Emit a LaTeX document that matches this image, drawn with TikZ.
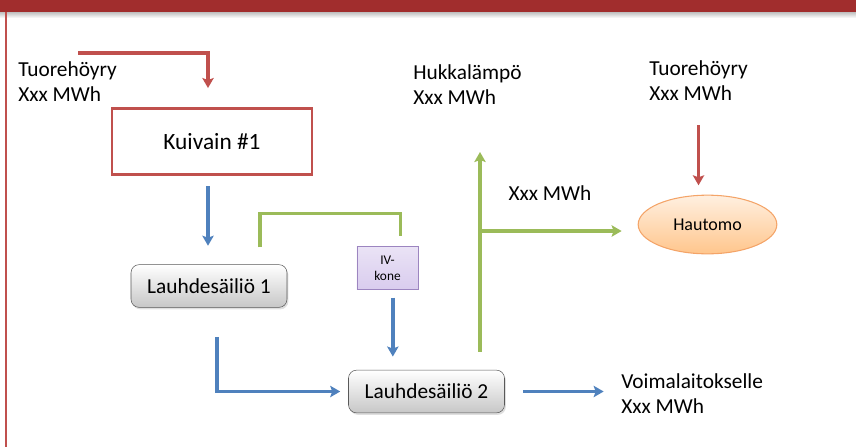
\documentclass[tikz,border=0pt]{standalone}
\usepackage{fontspec}
\setmainfont{Carlito}
\usetikzlibrary{positioning, arrows.meta, calc, shapes.geometric, shadows}
\definecolor{titlered}{HTML}{A12D2D}
\definecolor{linered}{HTML}{C0504D}
\definecolor{lineblue}{HTML}{4F81BD}
\definecolor{linegreen}{HTML}{9BBB59}
\definecolor{boxpurple}{HTML}{9C85C0}
\definecolor{fillpurple}{HTML}{D9CCEE}
\definecolor{hautedge}{HTML}{F4A468}
\tikzset{
    x=0.75pt, y=-0.75pt, % one unit = one pixel of the slide
    every node/.style={font=\fontsize{16}{19.3}\selectfont},
    label text/.style={ % free text labels
        align=left,
        anchor=north west,
        inner sep=0pt
    },
    pipe/.style={line width=2.6pt},
    flow/.style={pipe, -{Stealth[length=7.5pt, width=8.5pt, inset=1.5pt]}}, % directed connectors
    steam/.style={flow, linered},
    water/.style={flow, lineblue},
    tank/.style={ % grey rounded tanks
        draw=black!65,
        rounded corners=6pt,
        top color=white,
        bottom color=black!22,
        minimum width=117pt,
        minimum height=32pt,
        drop shadow={opacity=0.25, shadow xshift=1pt, shadow yshift=-1.5pt}
    },
}

\begin{document}
\begin{tikzpicture}
    \useasboundingbox (0,0) rectangle (856,447);
    % slide frame
    \fill[titlered] (0,0) rectangle (856,12);
    \shade[top color=black!25, bottom color=white] (0,12) rectangle (856,18);
    \draw[linered, line width=1.5pt] (6,12) -- (6,447);

    \node[label text] (tin1)  at (18,61)   {Tuorehöyry\\Xxx MWh};
    \node[label text] (hukka) at (413,64)  {Hukkalämpö\\Xxx MWh};
    \node[label text] (tin2)  at (649,60)  {Tuorehöyry\\Xxx MWh};
    \node[label text] (voima) at (621,373) {Voimalaitokselle\\Xxx MWh};
    \node             (mwh)   at (550,193) {Xxx MWh};

    \node[draw=linered, line width=2.2pt, fill=white, font=\fontsize{17.5}{21}\selectfont,
          minimum width=150pt, minimum height=50pt]     (kuiv)  at (212,141.5) {Kuivain \#1};
    \node[tank]                                         (lauh1) at (209,286)   {Lauhdesäiliö 1};
    \node[tank]                                         (lauh2) at (426.5,391.5) {Lauhdesäiliö 2};
    \node[draw=boxpurple, top color=fillpurple!55, bottom color=fillpurple,
          minimum width=46pt, minimum height=32pt, inner sep=1pt, align=center,
          font=\fontsize{10}{12}\selectfont]            (ivk)   at (387.5,268) {IV-\\kone};
    \node[ellipse, draw=hautedge, line width=0.8pt, top color=orange!12, bottom color=orange!45,
          minimum width=104pt, minimum height=44pt,
          font=\fontsize{13.5}{16}\selectfont]          (haut)  at (707.5,224.5) {Hautomo};

    \coordinate (tstart) at (78,53);
    \coordinate (hup)    at (480,152);
    \coordinate (hsplit) at (480,231);

    % steam
    \draw[steam, shorten >=14pt] (tstart) -| ([xshift=-3pt]kuiv.north);
    \draw[steam, shorten <=18pt, shorten >=7pt] (tin2.south) -- (tin2.south |- haut.north);
    % condensate
    \draw[water, shorten <=7.5pt, shorten >=14pt] ([xshift=-3pt]kuiv.south) -- ([xshift=-3pt]kuiv.south |- lauh1.north);
    \draw[water, shorten >=6pt] ([xshift=6pt,yshift=-22pt]lauh1.south) |- (lauh2.west);
    \draw[water, shorten <=6pt, shorten >=10pt] ([xshift=4pt]ivk.south) -- ([xshift=4pt]ivk.south |- lauh2.north);
    \draw[water, shorten <=14pt, shorten >=13pt] (lauh2.east) -- (lauh2.east -| voima.west);
    % waste heat
    \draw[pipe, linegreen] ($(lauh1.north)+(51,-17)$) |- ($(ivk.north)+(13,-33)$) -- ($(ivk.north)+(13,-10)$);
    \draw[flow, linegreen] ($(lauh2.north)+(53.5,-18)$) -- (hup);
    \draw[flow, linegreen, shorten >=12pt] (hsplit) -- (hsplit -| haut.west);
\end{tikzpicture}
\end{document}
